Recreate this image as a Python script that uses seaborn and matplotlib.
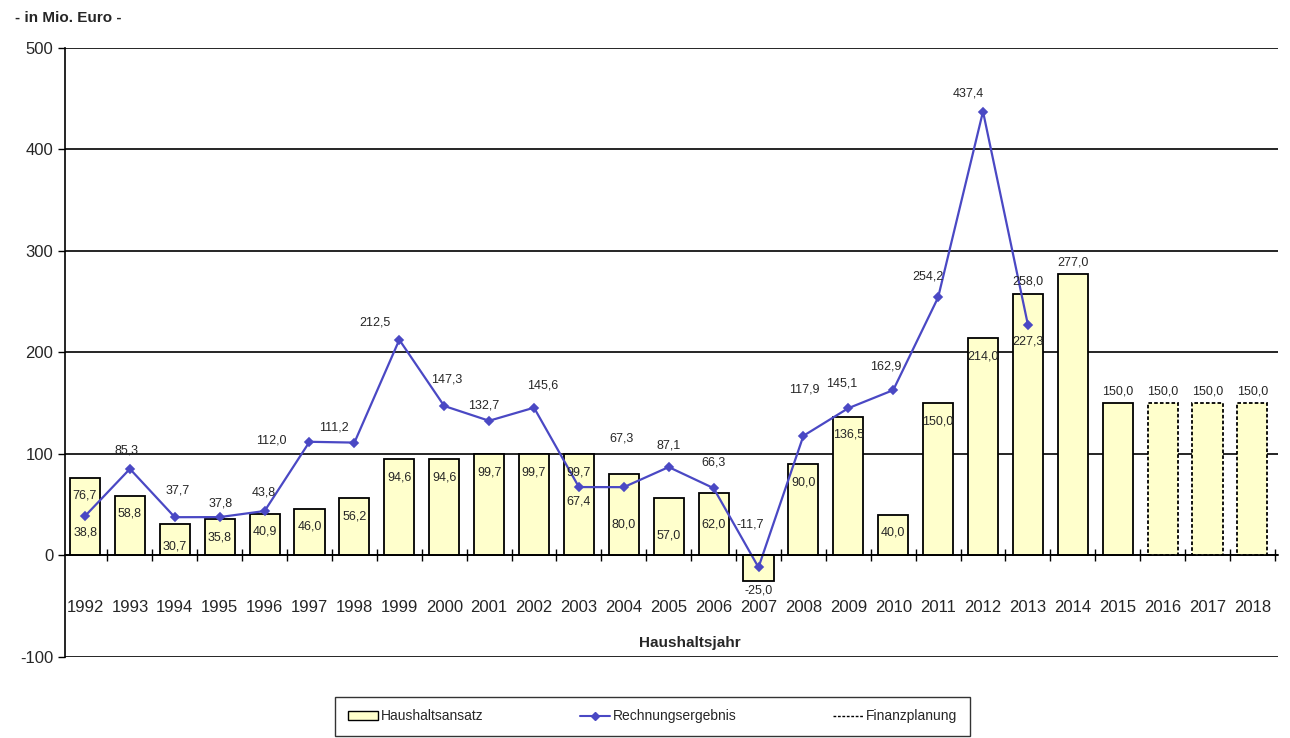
import pandas as pd
import matplotlib
matplotlib.use("Agg")
import matplotlib.pyplot as plt
import seaborn as sns
from matplotlib.patches import Patch
from matplotlib.lines import Line2D

# Haushaltsansatz (Balken) 1992-2018
years = [str(y) for y in range(1992, 2019)]
ansatz = [76.7, 58.8, 30.7, 35.8, 40.9, 46.0, 56.2, 94.6, 94.6, 99.7,
          99.7, 99.7, 80.0, 57.0, 62.0, -25.0, 90.0, 136.5, 40.0, 150.0,
          214.0, 258.0, 277.0, 150.0, 150.0, 150.0, 150.0]

# Rechnungsergebnis (Linie) 1992-2013
ergebnis_years = years[:22]
ergebnis = [38.8, 85.3, 37.7, 37.8, 43.8, 112.0, 111.2, 212.5, 147.3, 132.7,
            145.6, 67.4, 67.3, 87.1, 66.3, -11.7, 117.9, 145.1, 162.9, 254.2,
            437.4, 227.3]

# Finanzplanung (gestrichelte Balken)
planung_years = ["2016", "2017", "2018"]

BAR_FILL = "#FFFFCC"
LINE_COLOR = "#4A48C4"


def fmt(v):
    return f"{v:.1f}".replace(".", ",")


# label offsets in pixels (text centre relative to point)
line_label_offsets = {
    "1992": (1, -16), "1993": (-3, 18), "1994": (3, 27), "1995": (1, 14),
    "1996": (-1, 19), "1997": (-38, 1), "1998": (-21, 15), "1999": (-24, 17),
    "2000": (2, 26), "2001": (-5, 15), "2002": (9, 22), "2003": (0, -14),
    "2004": (-2, 49), "2005": (0, 22), "2006": (0, 26), "2007": (-8, 43),
    "2008": (1, 46), "2009": (-7, 25), "2010": (-7, 24), "2011": (-10, 21),
    "2012": (-15, 18), "2013": (0, -17),
}
bar_label_inside = {"2004": -50, "2005": -38, "2006": -32, "1994": -22}

df_bar = pd.DataFrame({"Jahr": years, "Ansatz": ansatz})
df_line = pd.DataFrame({"Jahr": ergebnis_years, "Ergebnis": ergebnis})

sns.set_style("white")
plt.rcParams["font.family"] = ["Liberation Sans", "DejaVu Sans"]
plt.rcParams["axes.unicode_minus"] = False

fig = plt.figure(figsize=(12.9, 7.38), dpi=100)
ax = fig.add_axes([0.0504, 0.1098, 0.9403, 0.8252])

sns.barplot(data=df_bar, x="Jahr", y="Ansatz", order=years, color=BAR_FILL,
            saturation=1, edgecolor="black", linewidth=1.3, width=0.67, ax=ax)

for p, yr in zip(ax.patches, years):
    if yr in planung_years:
        p.set_linestyle((0, (2, 1.2)))

sns.pointplot(data=df_line, x="Jahr", y="Ergebnis", order=years,
              color=LINE_COLOR, marker="D", markersize=4.5, linewidth=1.6,
              errorbar=None, ax=ax)

# bar value labels
for i, (yr, v) in enumerate(zip(years, ansatz)):
    if yr == "2007":
        ax.annotate(fmt(v), (i, v), xytext=(0, -10), textcoords="offset pixels",
                    ha="center", va="center", fontsize=9)
    elif int(yr) >= 2013:
        ax.annotate(fmt(v), (i, v), xytext=(0, 12), textcoords="offset pixels",
                    ha="center", va="center", fontsize=9)
    else:
        dy = bar_label_inside.get(yr, -18)
        ax.annotate(fmt(v), (i, v), xytext=(0, dy), textcoords="offset pixels",
                    ha="center", va="center", fontsize=9)

# line value labels
for yr, v in zip(ergebnis_years, ergebnis):
    i = years.index(yr)
    dx, dy = line_label_offsets[yr]
    ax.annotate(fmt(v), (i, v), xytext=(dx, dy), textcoords="offset pixels",
                ha="center", va="center", fontsize=9)

ax.set_ylim(-100, 500)
ax.set_xlim(-0.445, 26.57)
ax.set_yticks(range(-100, 501, 100))
ax.set_axisbelow(True)
ax.yaxis.grid(True, color="black", linewidth=1.2)
ax.xaxis.grid(False)

for s in ["top", "right"]:
    ax.spines[s].set_visible(False)
ax.spines["left"].set_color("black")
ax.spines["left"].set_linewidth(1.2)
ax.spines["bottom"].set_position(("data", 0))
ax.spines["bottom"].set_color("black")
ax.spines["bottom"].set_linewidth(1.2)

ax.set_xticks(range(len(years)))
ax.set_xticklabels(years)
ax.set_xticks([k + 0.5 for k in range(len(years))], minor=True)
ax.tick_params(axis="x", which="major", length=0, pad=32, labelsize=12)
ax.tick_params(axis="x", which="minor", length=8, width=1, direction="inout",
               color="black", bottom=True)
ax.tick_params(axis="y", which="major", length=5, width=1, direction="out",
               color="black", labelsize=12, left=True)
ax.set_xlabel("")
ax.set_ylabel("")

fig.text(0.012, 0.975, "- in Mio. Euro -", fontsize=11, fontweight="bold",
         ha="left", va="center")
fig.text(0.535, 0.129, "Haushaltsjahr", fontsize=11, fontweight="bold",
         ha="center", va="center")

handles = [
    Patch(facecolor=BAR_FILL, edgecolor="black", label="Haushaltsansatz"),
    Line2D([], [], color=LINE_COLOR, marker="D", markersize=4, lw=1.5,
           label="Rechnungsergebnis"),
    Line2D([], [], color="black", linestyle=(0, (2, 1.2)), lw=1,
           label="Finanzplanung"),
]
leg = fig.legend(handles=handles, loc="upper left",
                 bbox_to_anchor=(0.2597, 0.0, 0.4922, 0.0556), mode="expand",
                 ncol=3, fontsize=10, frameon=True, fancybox=False,
                 edgecolor="black", handlelength=2.2, handletextpad=0.2,
                 borderpad=0.9, borderaxespad=0)
leg.get_frame().set_linewidth(1.0)

fig.savefig("out.png", dpi=100)
